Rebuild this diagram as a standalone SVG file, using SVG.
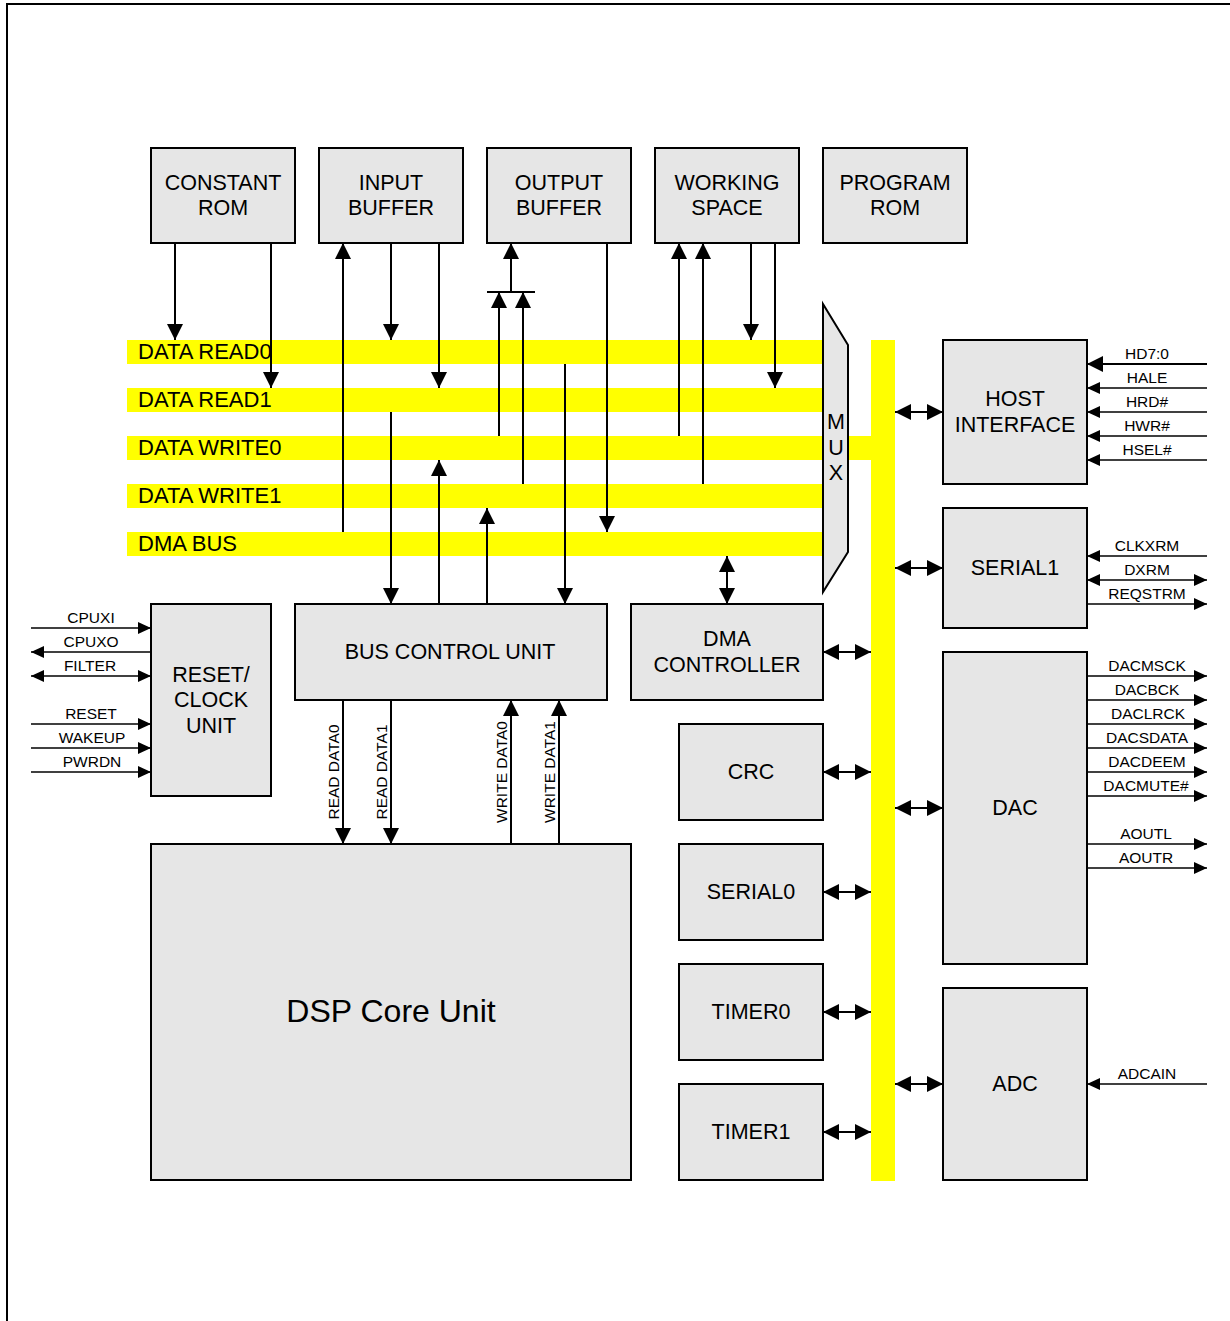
<svg xmlns="http://www.w3.org/2000/svg" width="1230" height="1321" viewBox="0 0 1230 1321">
<style>
.box{fill:#e6e6e6;stroke:#000;stroke-width:2}
.bus{fill:#ffff00}
.t{font-family:"Liberation Sans",Arial,sans-serif;font-size:21.5px;fill:#000;text-anchor:middle}
.bl{font-family:"Liberation Sans",Arial,sans-serif;font-size:22px;fill:#000}
.p{font-family:"Liberation Sans",Arial,sans-serif;font-size:15.5px;fill:#000;text-anchor:middle}
.big{font-family:"Liberation Sans",Arial,sans-serif;font-size:32px;fill:#000;text-anchor:middle}
.c{fill:none;stroke:#000;stroke-width:2}
.pc{fill:none;stroke:#000;stroke-width:1.3}
</style>
<defs>
<marker id="a" markerUnits="userSpaceOnUse" markerWidth="16" markerHeight="16" refX="16" refY="8" orient="auto-start-reverse"><path d="M0,0 L16,8 L0,16 z" fill="#000"/></marker>
<marker id="s" markerUnits="userSpaceOnUse" markerWidth="13" markerHeight="12" refX="13" refY="6" orient="auto-start-reverse"><path d="M0,0 L13,6 L0,12 z" fill="#000"/></marker>
</defs>
<rect width="1230" height="1321" fill="#fff"/>
<path d="M7,1321 V4 H1230" fill="none" stroke="#000" stroke-width="2"/>

<g id="buses">
<rect class="bus" x="127" y="340" width="696" height="24"/>
<rect class="bus" x="127" y="388" width="696" height="24"/>
<rect class="bus" x="127" y="436" width="696" height="24"/>
<rect class="bus" x="127" y="484" width="696" height="24"/>
<rect class="bus" x="127" y="532" width="696" height="24"/>
<rect class="bus" x="846" y="436" width="27" height="24"/>
<rect class="bus" x="871" y="340" width="24" height="841"/>
<text class="bl" x="138" y="359">DATA READ0</text>
<text class="bl" x="138" y="407">DATA READ1</text>
<text class="bl" x="138" y="455">DATA WRITE0</text>
<text class="bl" x="138" y="503">DATA WRITE1</text>
<text class="bl" x="138" y="551">DMA BUS</text>
</g>

<g id="mux">
<polygon points="823,304 848,345 848,552 823,592" fill="#e6e6e6" stroke="#000" stroke-width="2"/>
<text class="t" x="836" y="429">M</text>
<text class="t" x="836" y="455">U</text>
<text class="t" x="836" y="480">X</text>
</g>

<g id="constant-rom"><rect class="box" x="151" y="148" width="144" height="95"/><text class="t" x="223" y="190">CONSTANT</text><text class="t" x="223" y="215">ROM</text></g>
<g id="input-buffer"><rect class="box" x="319" y="148" width="144" height="95"/><text class="t" x="391" y="190">INPUT</text><text class="t" x="391" y="215">BUFFER</text></g>
<g id="output-buffer"><rect class="box" x="487" y="148" width="144" height="95"/><text class="t" x="559" y="190">OUTPUT</text><text class="t" x="559" y="215">BUFFER</text></g>
<g id="working-space"><rect class="box" x="655" y="148" width="144" height="95"/><text class="t" x="727" y="190">WORKING</text><text class="t" x="727" y="215">SPACE</text></g>
<g id="program-rom"><rect class="box" x="823" y="148" width="144" height="95"/><text class="t" x="895" y="190">PROGRAM</text><text class="t" x="895" y="215">ROM</text></g>

<g id="reset-clock"><rect class="box" x="151" y="604" width="120" height="192"/><text class="t" x="211" y="682">RESET/</text><text class="t" x="211" y="707">CLOCK</text><text class="t" x="211" y="733">UNIT</text></g>
<g id="bus-control"><rect class="box" x="295" y="604" width="312" height="96"/><text class="t" x="450" y="659">BUS CONTROL UNIT</text></g>
<g id="dma-controller"><rect class="box" x="631" y="604" width="192" height="96"/><text class="t" x="727" y="646">DMA</text><text class="t" x="727" y="672">CONTROLLER</text></g>
<g id="dsp-core"><rect class="box" x="151" y="844" width="480" height="336"/><text class="big" x="391" y="1022">DSP Core Unit</text></g>
<g id="crc"><rect class="box" x="679" y="724" width="144" height="96"/><text class="t" x="751" y="779">CRC</text></g>
<g id="serial0"><rect class="box" x="679" y="844" width="144" height="96"/><text class="t" x="751" y="899">SERIAL0</text></g>
<g id="timer0"><rect class="box" x="679" y="964" width="144" height="96"/><text class="t" x="751" y="1019">TIMER0</text></g>
<g id="timer1"><rect class="box" x="679" y="1084" width="144" height="96"/><text class="t" x="751" y="1139">TIMER1</text></g>
<g id="host-interface"><rect class="box" x="943" y="340" width="144" height="144"/><text class="t" x="1015" y="406">HOST</text><text class="t" x="1015" y="432">INTERFACE</text></g>
<g id="serial1"><rect class="box" x="943" y="508" width="144" height="120"/><text class="t" x="1015" y="575">SERIAL1</text></g>
<g id="dac"><rect class="box" x="943" y="652" width="144" height="312"/><text class="t" x="1015" y="815">DAC</text></g>
<g id="adc"><rect class="box" x="943" y="988" width="144" height="192"/><text class="t" x="1015" y="1091">ADC</text></g>

<g id="connectors">
<path class="c" d="M175,243 V340" marker-end="url(#a)"/>
<path class="c" d="M271,243 V388" marker-end="url(#a)"/>
<path class="c" d="M343,532 V243" marker-end="url(#a)"/>
<path class="c" d="M391,243 V340" marker-end="url(#a)"/>
<path class="c" d="M439,243 V388" marker-end="url(#a)"/>
<path class="c" d="M511,292 V243" marker-end="url(#a)"/>
<path class="c" d="M487,292 H535"/>
<path class="c" d="M499,436 V292" marker-end="url(#a)"/>
<path class="c" d="M523,484 V292" marker-end="url(#a)"/>
<path class="c" d="M607,243 V532" marker-end="url(#a)"/>
<path class="c" d="M679,436 V243" marker-end="url(#a)"/>
<path class="c" d="M703,484 V243" marker-end="url(#a)"/>
<path class="c" d="M751,243 V340" marker-end="url(#a)"/>
<path class="c" d="M775,243 V388" marker-end="url(#a)"/>
<path class="c" d="M391,412 V604" marker-end="url(#a)"/>
<path class="c" d="M439,604 V460" marker-end="url(#a)"/>
<path class="c" d="M487,604 V508" marker-end="url(#a)"/>
<path class="c" d="M565,364 V604" marker-end="url(#a)"/>
<path class="c" d="M343,700 V844" marker-end="url(#a)"/>
<path class="c" d="M391,700 V844" marker-end="url(#a)"/>
<path class="c" d="M511,844 V700" marker-end="url(#a)"/>
<path class="c" d="M559,844 V700" marker-end="url(#a)"/>
<path class="c" d="M727,556 V604" marker-start="url(#a)" marker-end="url(#a)"/>
<path class="c" d="M823,652 H871" marker-start="url(#a)" marker-end="url(#a)"/>
<path class="c" d="M823,772 H871" marker-start="url(#a)" marker-end="url(#a)"/>
<path class="c" d="M823,892 H871" marker-start="url(#a)" marker-end="url(#a)"/>
<path class="c" d="M823,1012 H871" marker-start="url(#a)" marker-end="url(#a)"/>
<path class="c" d="M823,1132 H871" marker-start="url(#a)" marker-end="url(#a)"/>
<path class="c" d="M895,412 H943" marker-start="url(#a)" marker-end="url(#a)"/>
<path class="c" d="M895,568 H943" marker-start="url(#a)" marker-end="url(#a)"/>
<path class="c" d="M895,808 H943" marker-start="url(#a)" marker-end="url(#a)"/>
<path class="c" d="M895,1084 H943" marker-start="url(#a)" marker-end="url(#a)"/>
<text class="p" transform="translate(339,772) rotate(-90)">READ DATA0</text>
<text class="p" transform="translate(387,772) rotate(-90)">READ DATA1</text>
<text class="p" transform="translate(507,772) rotate(-90)">WRITE DATA0</text>
<text class="p" transform="translate(555,772) rotate(-90)">WRITE DATA1</text>

<path class="c" d="M1207,364 H1087" marker-end="url(#a)"/>
<path class="pc" d="M1207,388 H1087" marker-end="url(#s)"/>
<path class="pc" d="M1207,412 H1087" marker-end="url(#s)"/>
<path class="pc" d="M1207,436 H1087" marker-end="url(#s)"/>
<path class="pc" d="M1207,460 H1087" marker-end="url(#s)"/>
<path class="pc" d="M1207,556 H1087" marker-end="url(#s)"/>
<path class="pc" d="M1087,580 H1207" marker-start="url(#s)" marker-end="url(#s)"/>
<path class="pc" d="M1087,604 H1207" marker-end="url(#s)"/>
<path class="pc" d="M1087,676 H1207" marker-end="url(#s)"/>
<path class="pc" d="M1087,700 H1207" marker-end="url(#s)"/>
<path class="pc" d="M1087,724 H1207" marker-end="url(#s)"/>
<path class="pc" d="M1087,748 H1207" marker-end="url(#s)"/>
<path class="pc" d="M1087,772 H1207" marker-end="url(#s)"/>
<path class="pc" d="M1087,796 H1207" marker-end="url(#s)"/>
<path class="pc" d="M1087,844 H1207" marker-end="url(#s)"/>
<path class="pc" d="M1087,868 H1207" marker-end="url(#s)"/>
<path class="pc" d="M1207,1084 H1087" marker-end="url(#s)"/>
<path class="pc" d="M31,628 H151" marker-end="url(#s)"/>
<path class="pc" d="M151,652 H31" marker-end="url(#s)"/>
<path class="pc" d="M31,676 H151" marker-start="url(#s)" marker-end="url(#s)"/>
<path class="pc" d="M31,724 H151" marker-end="url(#s)"/>
<path class="pc" d="M31,748 H151" marker-end="url(#s)"/>
<path class="pc" d="M31,772 H151" marker-end="url(#s)"/>

<text class="p" x="1147" y="359">HD7:0</text>
<text class="p" x="1147" y="383">HALE</text>
<text class="p" x="1147" y="407">HRD#</text>
<text class="p" x="1147" y="431">HWR#</text>
<text class="p" x="1147" y="455">HSEL#</text>
<text class="p" x="1147" y="551">CLKXRM</text>
<text class="p" x="1147" y="575">DXRM</text>
<text class="p" x="1147" y="599">REQSTRM</text>
<text class="p" x="1147" y="671">DACMSCK</text>
<text class="p" x="1147" y="695">DACBCK</text>
<text class="p" x="1148" y="719">DACLRCK</text>
<text class="p" x="1147" y="743">DACSDATA</text>
<text class="p" x="1147" y="767">DACDEEM</text>
<text class="p" x="1146" y="791">DACMUTE#</text>
<text class="p" x="1146" y="839">AOUTL</text>
<text class="p" x="1146" y="863">AOUTR</text>
<text class="p" x="1147" y="1079">ADCAIN</text>
<text class="p" x="91" y="623">CPUXI</text>
<text class="p" x="91" y="647">CPUXO</text>
<text class="p" x="90" y="671">FILTER</text>
<text class="p" x="91" y="719">RESET</text>
<text class="p" x="92" y="743">WAKEUP</text>
<text class="p" x="92" y="767">PWRDN</text>
</g>
</svg>
